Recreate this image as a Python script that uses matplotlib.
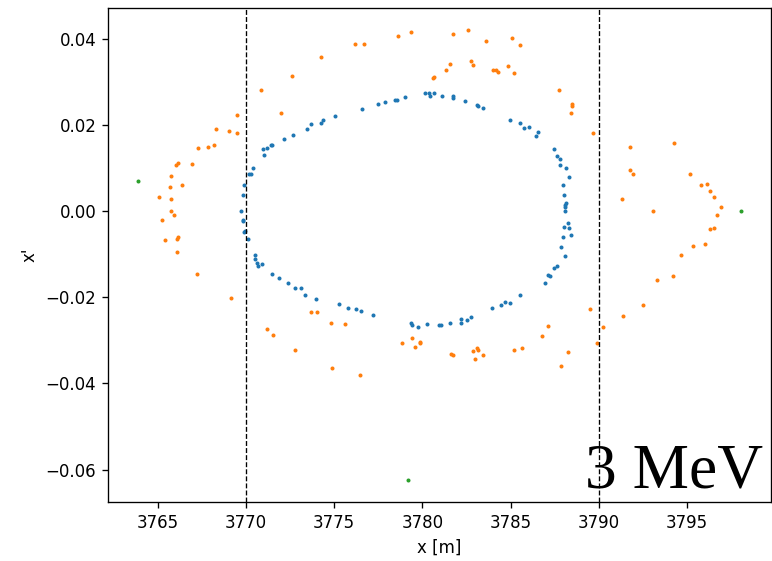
import numpy as np
import matplotlib
matplotlib.use("Agg")
import matplotlib.pyplot as plt

# inner ring (blue)
x_blue = [3780.13, 3780.36, 3780.43, 3780.66, 3778.99, 3778.47, 3778.54, 3777.86, 3777.48, 3776.57,
          3775.04, 3774.34, 3774.27, 3773.66, 3773.43, 3772.68, 3772.15, 3771.46, 3771.39, 3771.16,
          3770.94, 3771.01, 3770.41, 3770.26, 3770.18, 3769.88, 3769.80, 3769.73, 3769.80, 3769.80,
          3769.88, 3769.95, 3770.10, 3770.48, 3770.48, 3770.61, 3770.69, 3770.92, 3771.46, 3771.84,
          3772.37, 3772.75, 3773.13, 3773.36, 3773.96, 3775.25, 3775.78, 3776.23, 3776.54, 3777.22,
          3779.35, 3779.43, 3779.73, 3780.26, 3780.94, 3781.04, 3781.57, 3782.17, 3782.17, 3782.55,
          3782.78, 3783.92, 3784.44, 3784.67, 3784.97, 3785.52, 3786.96, 3787.11, 3787.26, 3787.49,
          3787.64, 3787.87, 3788.09, 3787.95, 3788.40, 3788.32, 3788.02, 3788.25, 3788.09, 3788.09,
          3788.09, 3788.17, 3788.02, 3787.95, 3788.32, 3788.17, 3787.79, 3787.79, 3787.64, 3787.49,
          3786.58, 3786.43, 3786.05, 3785.75, 3785.52, 3784.99, 3783.46, 3783.15, 3783.08, 3782.40,
          3781.72, 3781.72, 3781.11]
y_blue = [0.02742, 0.02742, 0.02680, 0.02742, 0.02649, 0.02587, 0.02587, 0.02524, 0.02494, 0.02372,
          0.02209, 0.02117, 0.02054, 0.02024, 0.01899, 0.01776, 0.01684, 0.01529, 0.01529, 0.01468,
          0.01436, 0.01313, 0.01005, 0.00850, 0.00850, 0.00595, 0.00380, 0.00009, -0.00208, -0.00239,
          -0.00486, -0.00454, -0.00639, -0.01010, -0.01102, -0.01205, -0.01265, -0.01235, -0.01450, -0.01543,
          -0.01668, -0.01790, -0.01790, -0.01946, -0.02038, -0.02161, -0.02254, -0.02284, -0.02316, -0.02409,
          -0.02594, -0.02655, -0.02687, -0.02624, -0.02655, -0.02655, -0.02594, -0.02502, -0.02594, -0.02532,
          -0.02469, -0.02254, -0.02191, -0.02099, -0.02131, -0.01946, -0.01668, -0.01482, -0.01513, -0.01327,
          -0.01265, -0.00825, -0.01042, -0.00609, -0.00547, -0.00394, -0.00361, -0.00269, 0.00009, 0.00102,
          0.00132, 0.00195, 0.00380, 0.00595, 0.00787, 0.01005, 0.01065, 0.01220, 0.01283, 0.01436,
          0.01839, 0.01746, 0.01962, 0.01931, 0.02054, 0.02117, 0.02402, 0.02432, 0.02464, 0.02557,
          0.02617, 0.02680, 0.02680]

# outer ring (orange)
x_orange = [3778.61, 3779.38, 3776.17, 3776.71, 3774.27, 3772.60, 3770.86, 3780.58, 3780.66, 3772.00,
            3769.48, 3768.27, 3769.02, 3769.48, 3767.29, 3767.82, 3768.20, 3766.15, 3766.00, 3766.91,
            3765.77, 3765.70, 3766.38, 3765.09, 3765.77, 3765.77, 3765.93, 3765.24, 3765.39, 3766.07,
            3766.15, 3766.07, 3767.19, 3769.12, 3773.66, 3774.04, 3774.80, 3775.63, 3771.16, 3771.54,
            3772.75, 3774.87, 3776.46, 3778.82, 3779.43, 3779.58, 3779.89, 3779.89, 3781.65, 3781.72,
            3782.85, 3783.08, 3783.15, 3783.01, 3783.46, 3785.22, 3785.67, 3786.81, 3787.11, 3787.87,
            3788.25, 3789.48, 3789.93, 3790.23, 3791.37, 3792.52, 3793.28, 3794.19, 3794.64, 3795.32,
            3796.00, 3781.72, 3782.57, 3783.63, 3785.07, 3785.52, 3781.57, 3781.34, 3782.78, 3782.85,
            3784.01, 3784.16, 3784.31, 3784.84, 3785.22, 3787.72, 3788.49, 3788.49, 3788.42, 3789.70,
            3791.77, 3794.26, 3791.77, 3791.92, 3795.17, 3795.78, 3796.15, 3796.31, 3796.53, 3791.31,
            3796.91, 3793.05, 3796.69, 3796.31, 3796.53]
y_orange = [0.04069, 0.04162, 0.03884, 0.03884, 0.03576, 0.03143, 0.02802, 0.03080, 0.03113, 0.02270,
            0.02240, 0.01899, 0.01869, 0.01806, 0.01468, 0.01499, 0.01529, 0.01128, 0.01065, 0.01098,
            0.00820, 0.00565, 0.00595, 0.00317, 0.00287, 0.00009, -0.00083, -0.00208, -0.00672, -0.00639,
            -0.00609, -0.00950, -0.01450, -0.02006, -0.02346, -0.02346, -0.02594, -0.02624, -0.02747, -0.02879,
            -0.03220, -0.03651, -0.03806, -0.03065, -0.02941, -0.03157, -0.03035, -0.03065, -0.03313, -0.03343,
            -0.03250, -0.03187, -0.03220, -0.03435, -0.03343, -0.03220, -0.03187, -0.02909, -0.02664, -0.03590,
            -0.03280, -0.02261, -0.03065, -0.02694, -0.02446, -0.02191, -0.01605, -0.01513, -0.01015, -0.00799,
            -0.00767, 0.04100, 0.04193, 0.03947, 0.04007, 0.03854, 0.03421, 0.03266, 0.03484, 0.03391,
            0.03266, 0.03266, 0.03236, 0.03359, 0.03206, 0.02802, 0.02479, 0.02448, 0.02270, 0.01807,
            0.01499, 0.01591, 0.00943, 0.00850, 0.00850, 0.00595, 0.00625, 0.00473, 0.00317, 0.00287,
            0.00102, 0.00009, -0.00083, -0.00424, -0.00394]

# lost particles (green)
x_green = [3763.88, 3798.06, 3779.20]
y_green = [0.00688, 0.00009, -0.06231]

aperture = [3770, 3790]

fig = plt.figure(figsize=(772 / 120, 561 / 120), dpi=120)
ax = fig.add_subplot(111)
fig.subplots_adjust(left=108 / 772, right=771 / 772, bottom=1 - 502 / 561, top=1 - 8 / 561)

ax.scatter(x_blue, y_blue, s=2)
ax.scatter(x_orange, y_orange, s=2)
ax.scatter(x_green, y_green, s=2)

for xa in aperture:
    ax.axvline(xa, color='k', ls='--', lw=0.8)

ax.set_xlabel('x [m]')
ax.set_ylabel("x'")

ax.text(0.988, 0.0, '3 MeV', transform=ax.transAxes, ha='right', va='bottom',
        fontsize=38, family='Liberation Serif')

fig.savefig('out.png', dpi=120)
